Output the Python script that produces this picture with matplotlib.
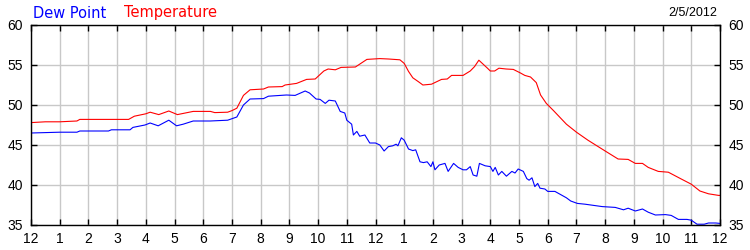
import matplotlib
matplotlib.use('Agg')
import matplotlib.pyplot as plt

# hours since midnight and readings (F)
temp_hours = [0, 0.5, 1.0, 1.6, 1.7, 3.4, 3.6, 4.0, 4.15, 4.45, 4.8, 5.1, 5.65, 6.25, 6.4,
              6.85, 7.0, 7.17, 7.4, 7.63, 8.1, 8.27, 8.75, 8.85, 9.25, 9.6, 9.9, 10.2, 10.35,
              10.6, 10.8, 11.3, 11.7, 12.15, 12.45, 12.85, 13.0, 13.15, 13.3, 13.5, 13.65,
              13.95, 14.3, 14.5, 14.65, 15.05, 15.3, 15.45, 15.6, 15.75, 15.9, 16.0, 16.15,
              16.3, 16.55, 16.8, 17.05, 17.2, 17.4, 17.6, 17.75, 17.95, 18.2, 18.65, 19.0,
              19.4, 20.0, 20.45, 20.8, 21.05, 21.3, 21.5, 21.85, 22.2, 22.65, 23.0, 23.3,
              23.6, 23.95, 24.0]
temp = [47.8, 47.9, 47.9, 48.0, 48.2, 48.2, 48.6, 48.9, 49.1, 48.8, 49.25, 48.8, 49.2, 49.2,
        49.05, 49.1, 49.3, 49.6, 51.2, 51.9, 52.0, 52.25, 52.3, 52.5, 52.7, 53.2, 53.25,
        54.25, 54.5, 54.4, 54.7, 54.75, 55.7, 55.8, 55.75, 55.65, 55.2, 54.2, 53.4, 52.9,
        52.5, 52.6, 53.2, 53.25, 53.7, 53.7, 54.25, 54.8, 55.6, 55.1, 54.6, 54.25, 54.25,
        54.6, 54.5, 54.45, 54.0, 53.7, 53.5, 52.8, 51.25, 50.2, 49.3, 47.6, 46.6, 45.6,
        44.25, 43.25, 43.2, 42.7, 42.7, 42.2, 41.7, 41.6, 40.75, 40.1, 39.25, 38.9, 38.7,
        38.7]

dew_hours = [0, 0.5, 1.0, 1.6, 1.7, 2.7, 2.8, 3.45, 3.55, 3.97, 4.15, 4.43, 4.8, 5.07, 5.3,
             5.65, 6.24, 6.85, 7.17, 7.4, 7.63, 8.1, 8.27, 8.9, 9.2, 9.55, 9.7, 9.93, 10.07,
             10.25, 10.38, 10.6, 10.77, 10.93, 11.0, 11.17, 11.23, 11.35, 11.45, 11.63, 11.8,
             12.0, 12.15, 12.3, 12.45, 12.6, 12.72, 12.78, 12.9, 13.0, 13.15, 13.3, 13.4,
             13.55, 13.67, 13.8, 13.93, 14.0, 14.07, 14.22, 14.42, 14.53, 14.72, 14.88, 15.05,
             15.17, 15.3, 15.4, 15.53, 15.62, 15.82, 16.0, 16.09, 16.17, 16.28, 16.4, 16.56,
             16.75, 16.86, 16.97, 17.15, 17.27, 17.35, 17.45, 17.55, 17.65, 17.73, 17.9, 18.0,
             18.25, 18.5, 18.65, 18.8, 19.03, 19.3, 19.5, 19.9, 20.35, 20.64, 20.8, 21.05,
             21.3, 21.5, 21.75, 22.1, 22.3, 22.55, 22.85, 23.0, 23.2, 23.45, 23.6, 23.85, 24.0]
dew = [46.5, 46.55, 46.6, 46.6, 46.75, 46.75, 46.9, 46.9, 47.2, 47.5, 47.75, 47.4, 48.1,
       47.4, 47.6, 48.0, 48.0, 48.1, 48.5, 50.0, 50.75, 50.8, 51.1, 51.25, 51.2, 51.75,
       51.5, 50.75, 50.7, 50.2, 50.6, 50.5, 49.2, 49.0, 48.1, 47.6, 46.25, 46.7, 46.1,
       46.25, 45.25, 45.25, 45.0, 44.25, 44.8, 44.9, 45.1, 44.9, 45.9, 45.6, 44.5, 44.3,
       44.4, 42.9, 42.8, 42.9, 42.3, 42.9, 41.9, 42.5, 42.7, 41.7, 42.7, 42.2, 41.9, 41.9,
       42.3, 41.25, 41.1, 42.7, 42.4, 42.3, 41.7, 42.2, 41.25, 41.7, 41.1, 41.7, 41.5, 42.0,
       41.7, 40.8, 40.6, 40.9, 39.8, 40.2, 39.6, 39.5, 39.2, 39.2, 38.7, 38.4, 38.0, 37.7,
       37.6, 37.5, 37.3, 37.2, 36.9, 37.1, 36.75, 37.0, 36.6, 36.25, 36.3, 36.2, 35.7, 35.7,
       35.6, 35.1, 35.1, 35.25, 35.25, 35.2]

hour_labels = ['12', '1', '2', '3', '4', '5', '6', '7', '8', '9', '10', '11',
               '12', '1', '2', '3', '4', '5', '6', '7', '8', '9', '10', '11', '12']
y_ticks = [35, 40, 45, 50, 55, 60]

fig = plt.figure(figsize=(7.5, 2.5), dpi=100)
ax = fig.add_axes([31/750, 25/250, 689/750, 200/250])

ax.plot(temp_hours, temp, color='#ff0000', lw=0.8)
ax.plot(dew_hours, dew, color='#0000ff', lw=0.8)

ax.set_xlim(0, 24)
ax.set_ylim(35, 60)
ax.set_xticks(range(25))
ax.set_xticklabels(hour_labels)
ax.set_yticks(y_ticks)
ax.grid(True, color='#c8c8c8', lw=1)
ax.tick_params(direction='in', length=4, width=1, color='black', labelsize=10,
               labelfontfamily='Liberation Sans', top=True, right=True, labelright=True)
ax.tick_params(axis='x', pad=5)
ax.tick_params(axis='y', pad=6)
for s in ax.spines.values():
    s.set_color('black')
    s.set_linewidth(1)

fig.text(33/750, 1 - 13/250, 'Dew Point', color='#0000ff', fontsize=10.5, va='center')
fig.text(124/750, 1 - 13/250, 'Temperature', color='#ff0000', fontsize=10.5, va='center')
fig.text(717/750, 1 - 13/250, '2/5/2012', color='black', fontsize=9, va='center', ha='right',
         family='Liberation Sans')

plt.savefig('out.png', dpi=100)
